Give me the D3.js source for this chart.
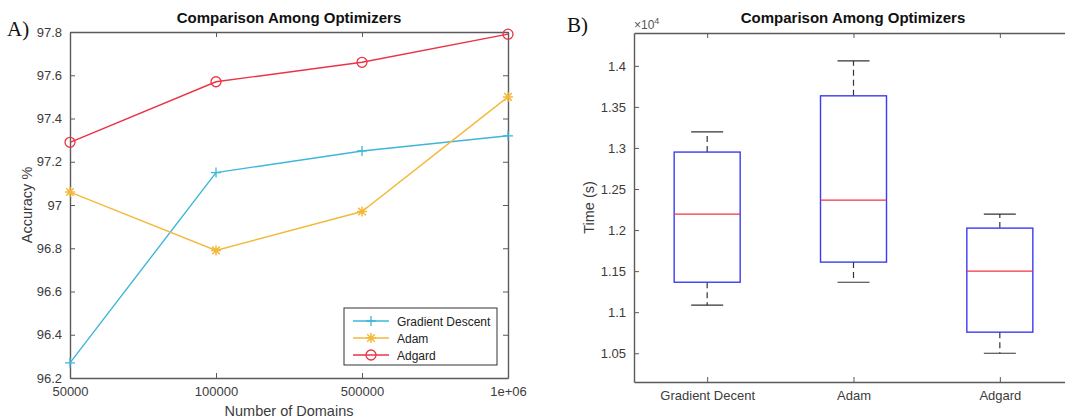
<!DOCTYPE html>
<html>
<head>
<meta charset="utf-8">
<script src="https://cdn.jsdelivr.net/npm/d3@7"></script>
<style>
  html, body { margin: 0; padding: 0; background: #fff; }
  svg { display: block; font-family: "Liberation Sans", Arial, sans-serif; }
</style>
</head>
<body>
<svg id="chart" width="1065" height="420"></svg>
<script>
// ---- Panel A: accuracy vs. number of domains ----
const domains = ["50000", "100000", "500000", "1e+06"];
const gdAccuracy = [96.27, 97.15, 97.25, 97.32];
const adamAccuracy = [97.06, 96.79, 96.97, 97.50];
const adgardAccuracy = [97.29, 97.57, 97.66, 97.79];
const accuracyTicks = [96.2, 96.4, 96.6, 96.8, 97, 97.2, 97.4, 97.6, 97.8];

// ---- Panel B: training time per optimizer ----
const optimizers = ["Gradient Decent", "Adam", "Adgard"];
const timeWhiskerLow = [11085, 11365, 10500];
const timeQ1 = [11365, 11610, 10757];
const timeMedian = [12195, 12366, 11500];
const timeQ3 = [12950, 13635, 12024];
const timeWhiskerHigh = [13195, 14060, 12195];
const timeTicks = [10500, 11000, 11500, 12000, 12500, 13000, 13500, 14000];

const svg = d3.select("#chart");
const axisColor = "#5a5a5a";
const labelColor = "#3c3c3c";

function styleAxis(g) {
  g.select(".domain").attr("stroke", axisColor).attr("stroke-width", 1.4);
  g.selectAll(".tick line").attr("stroke", axisColor).attr("stroke-width", 1);
  g.selectAll(".tick text").attr("fill", labelColor).attr("font-size", 13)
    .attr("font-family", "Liberation Sans, Arial, sans-serif");
}

// ================= Panel A =================
const A = { left: 70, right: 508, top: 32, bottom: 378 };
const xA = d3.scalePoint().domain(domains).range([A.left, A.right]);
const yA = d3.scaleLinear().domain([96.2, 97.8]).range([A.bottom, A.top]);

const gA = svg.append("g");

gA.append("g").attr("transform", `translate(0,${A.bottom})`)
  .call(d3.axisBottom(xA).tickSizeInner(-5).tickSizeOuter(0).tickPadding(9))
  .call(styleAxis);
gA.append("g").attr("transform", `translate(0,${A.top})`)
  .call(d3.axisTop(xA).tickSizeInner(-5).tickSizeOuter(0).tickFormat(""))
  .call(styleAxis);
gA.append("g").attr("transform", `translate(${A.left},0)`)
  .call(d3.axisLeft(yA).tickValues(accuracyTicks).tickFormat(d3.format("~g"))
    .tickSizeInner(-5).tickSizeOuter(0).tickPadding(8))
  .call(styleAxis);
gA.append("g").attr("transform", `translate(${A.right},0)`)
  .call(d3.axisRight(yA).tickValues(accuracyTicks).tickFormat("")
    .tickSizeInner(-5).tickSizeOuter(0))
  .call(styleAxis);

const seriesA = [
  { name: "Gradient Descent", values: gdAccuracy, color: "#3fb6d8", marker: "plus" },
  { name: "Adam", values: adamAccuracy, color: "#f3b93a", marker: "star" },
  { name: "Adgard", values: adgardAccuracy, color: "#ea3346", marker: "circle" }
];

function drawMarker(g, type, x, y, color) {
  if (type === "plus") {
    g.append("path").attr("d", `M${x - 5},${y}H${x + 5}M${x},${y - 5}V${y + 5}`)
      .attr("stroke", color).attr("stroke-width", 1.3).attr("fill", "none");
  } else if (type === "star") {
    g.append("path")
      .attr("d", `M${x - 5},${y}H${x + 5}M${x},${y - 5}V${y + 5}M${x - 3.8},${y - 3.8}L${x + 3.8},${y + 3.8}M${x - 3.8},${y + 3.8}L${x + 3.8},${y - 3.8}`)
      .attr("stroke", color).attr("stroke-width", 1.5).attr("fill", "none");
  } else {
    g.append("circle").attr("cx", x).attr("cy", y).attr("r", 5)
      .attr("stroke", color).attr("stroke-width", 1.3).attr("fill", "none");
  }
}

const line = d3.line().x((d, i) => xA(domains[i])).y(d => yA(d));
seriesA.forEach(s => {
  gA.append("path").datum(s.values).attr("d", line)
    .attr("fill", "none").attr("stroke", s.color).attr("stroke-width", 1.4);
  s.values.forEach((v, i) => drawMarker(gA, s.marker, xA(domains[i]), yA(v), s.color));
});

// legend
const leg = gA.append("g");
leg.append("rect").attr("x", 344).attr("y", 308).attr("width", 153).attr("height", 57)
  .attr("fill", "#fff").attr("stroke", "#333").attr("stroke-width", 1);
seriesA.forEach((s, i) => {
  const ly = 321 + i * 17;
  leg.append("line").attr("x1", 353).attr("x2", 389).attr("y1", ly).attr("y2", ly)
    .attr("stroke", s.color).attr("stroke-width", 1.4);
  drawMarker(leg, s.marker, 371, ly, s.color);
  leg.append("text").attr("x", 397).attr("y", ly + 4.5).attr("font-size", 12)
    .attr("fill", "#222").text(s.name);
});

gA.append("text").attr("x", (A.left + A.right) / 2).attr("y", 23)
  .attr("text-anchor", "middle").attr("font-weight", "bold").attr("font-size", 15)
  .attr("fill", "#111").text("Comparison Among Optimizers");
gA.append("text").attr("x", (A.left + A.right) / 2).attr("y", 416)
  .attr("text-anchor", "middle").attr("font-size", 14.5).attr("fill", labelColor)
  .text("Number of Domains");
gA.append("text").attr("transform", `translate(32,${(A.top + A.bottom) / 2}) rotate(-90)`)
  .attr("text-anchor", "middle").attr("font-size", 14.5).attr("fill", labelColor)
  .text("Accuracy %");
gA.append("text").attr("x", 7).attr("y", 36).attr("font-family", "Liberation Serif, Times New Roman, serif")
  .attr("font-size", 21).attr("fill", "#111").text("A)");

// ================= Panel B =================
const B = { left: 634, right: 1073, top: 33, bottom: 382 };
const xB = d3.scaleLinear().domain([0.5, 3.5]).range([B.left, B.right]);
const yB = d3.scaleLinear().domain([10150, 14400]).range([B.bottom, B.top]);
const catPos = optimizers.map((d, i) => i + 1);

const gB = svg.append("g");

gB.append("g").attr("transform", `translate(0,${B.bottom})`)
  .call(d3.axisBottom(xB).tickValues(catPos).tickFormat((d, i) => optimizers[i])
    .tickSizeInner(-5).tickSizeOuter(0).tickPadding(9))
  .call(styleAxis);
gB.append("g").attr("transform", `translate(0,${B.top})`)
  .call(d3.axisTop(xB).tickValues(catPos).tickFormat("")
    .tickSizeInner(-5).tickSizeOuter(0))
  .call(styleAxis);
gB.append("g").attr("transform", `translate(${B.left},0)`)
  .call(d3.axisLeft(yB).tickValues(timeTicks).tickFormat(d => d3.format("~g")(d / 1e4))
    .tickSizeInner(-5).tickSizeOuter(0).tickPadding(8))
  .call(styleAxis);

const boxHalf = 33, capHalf = 16;
optimizers.forEach((name, i) => {
  const cx = xB(catPos[i]);
  // dashed whiskers
  [[timeQ3[i], timeWhiskerHigh[i]], [timeQ1[i], timeWhiskerLow[i]]].forEach(([a, b]) => {
    gB.append("line").attr("x1", cx).attr("x2", cx).attr("y1", yB(a)).attr("y2", yB(b))
      .attr("stroke", "#333").attr("stroke-width", 1.2).attr("stroke-dasharray", "6,4");
  });
  // whisker caps
  [timeWhiskerHigh[i], timeWhiskerLow[i]].forEach(v => {
    gB.append("line").attr("x1", cx - capHalf).attr("x2", cx + capHalf)
      .attr("y1", yB(v)).attr("y2", yB(v)).attr("stroke", "#333").attr("stroke-width", 1.2);
  });
  // box
  gB.append("rect").attr("x", cx - boxHalf).attr("width", boxHalf * 2)
    .attr("y", yB(timeQ3[i])).attr("height", yB(timeQ1[i]) - yB(timeQ3[i]))
    .attr("fill", "none").attr("stroke", "#3b3bf5").attr("stroke-width", 1.4);
  // median
  gB.append("line").attr("x1", cx - boxHalf).attr("x2", cx + boxHalf)
    .attr("y1", yB(timeMedian[i])).attr("y2", yB(timeMedian[i]))
    .attr("stroke", "#f5333f").attr("stroke-width", 1.3);
});

gB.append("text").attr("x", 853).attr("y", 23)
  .attr("text-anchor", "middle").attr("font-weight", "bold").attr("font-size", 15)
  .attr("fill", "#111").text("Comparison Among Optimizers");
const exp = gB.append("text").attr("x", 634).attr("y", 29).attr("font-size", 12).attr("fill", "#555");
exp.append("tspan").text("\u00d710");
exp.append("tspan").attr("dy", -5).attr("font-size", 9).text("4");
gB.append("text").attr("transform", `translate(594,${(B.top + B.bottom) / 2}) rotate(-90)`)
  .attr("text-anchor", "middle").attr("font-size", 14.5).attr("fill", labelColor)
  .text("Time (s)");
gB.append("text").attr("x", 567).attr("y", 32).attr("font-family", "Liberation Serif, Times New Roman, serif")
  .attr("font-size", 21).attr("fill", "#111").text("B)");
</script>
</body>
</html>
